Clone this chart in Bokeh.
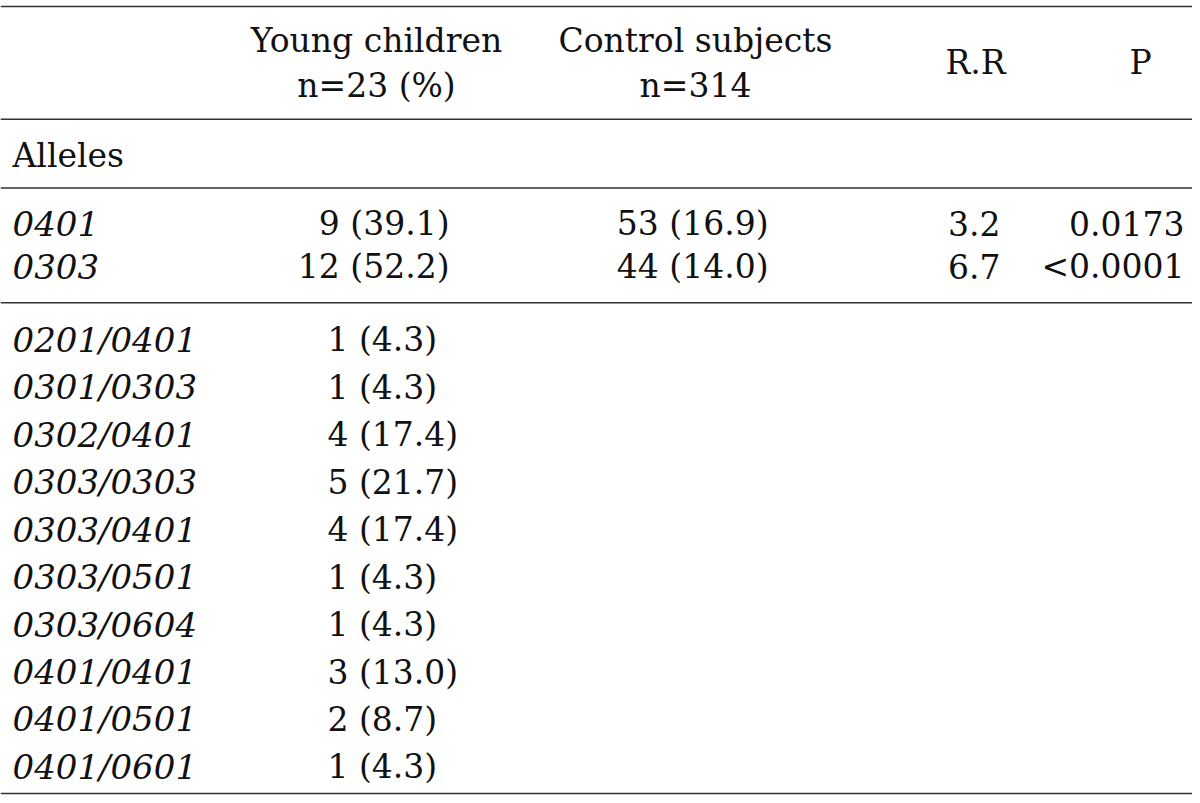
from bokeh.plotting import figure
from bokeh.models import ColumnDataSource, Range1d
from bokeh.core.properties import value
from bokeh.embed import file_html
from bokeh.resources import INLINE

# ---- data ----
header_top = ["Young children", "Control subjects"]
header_sub = ["n=23 (%)", "n=314"]
header_single = ["R.R", "P"]
section_label = ["Alleles"]
allele_names = ["0401", "0303"]
allele_young = ["9 (39.1)", "12 (52.2)"]
allele_control = ["53 (16.9)", "44 (14.0)"]
allele_rr = ["3.2", "6.7"]
allele_p = ["0.0173", "<0.0001"]
genotype_names = ["0201/0401", "0301/0303", "0302/0401", "0303/0303", "0303/0401",
                  "0303/0501", "0303/0604", "0401/0401", "0401/0501", "0401/0601"]
genotype_young = ["1 (4.3)", "1 (4.3)", "4 (17.4)", "5 (21.7)", "4 (17.4)",
                  "1 (4.3)", "1 (4.3)", "3 (13.0)", "2 (8.7)", "1 (4.3)"]

FONT = "DejaVu Serif"
FS = "33px"
FS_IT = "34px"
COL = "#111111"

p = figure(width=1192, height=795, x_range=Range1d(0, 1192), y_range=Range1d(798, 1),
           output_backend="svg", toolbar_location=None,
           x_axis_location=None, y_axis_location=None, min_border=0)
p.grid.visible = False
p.outline_line_color = None
p.background_fill_color = "white"
p.border_fill_color = "white"

def txt(xs, ys, texts, align, style="normal", size=FS):
    src = ColumnDataSource(dict(x=xs, y=ys, t=texts))
    p.text(x="x", y="y", text="t", source=src, text_font=value(FONT),
           text_font_size=size, text_align=align, text_baseline="middle",
           text_color=COL, text_font_style=style)

# rules
rule_y = [7, 120, 189, 304, 796]
p.segment(x0=[0] * len(rule_y), y0=rule_y, x1=[1197] * len(rule_y), y1=rule_y,
          line_color="#333333", line_width=1.6)

# header
hx = [376, 695]
txt(hx, [41] * len(header_top), header_top, "center")
txt(hx, [86] * len(header_sub), header_sub, "center")
txt([975, 1140], [63, 63], header_single, "center")

# section
txt([12], [156], section_label, "left")

# allele rows
ay = [225 + i * 43 for i in range(len(allele_names))]
txt([12] * len(ay), ay, allele_names, "left", "italic", FS_IT)
txt([449] * len(ay), ay, allele_young, "right")
txt([768] * len(ay), ay, allele_control, "right")
txt([1000] * len(ay), ay, allele_rr, "right")
txt([1184] * len(ay), ay, allele_p, "right")

# genotype rows
gy = [341 + i * 47.6 for i in range(len(genotype_names))]
txt([12] * len(gy), gy, genotype_names, "left", "italic", FS_IT)
txt([327] * len(gy), gy, genotype_young, "left")

open("out.html", "w").write(file_html(p, INLINE))
